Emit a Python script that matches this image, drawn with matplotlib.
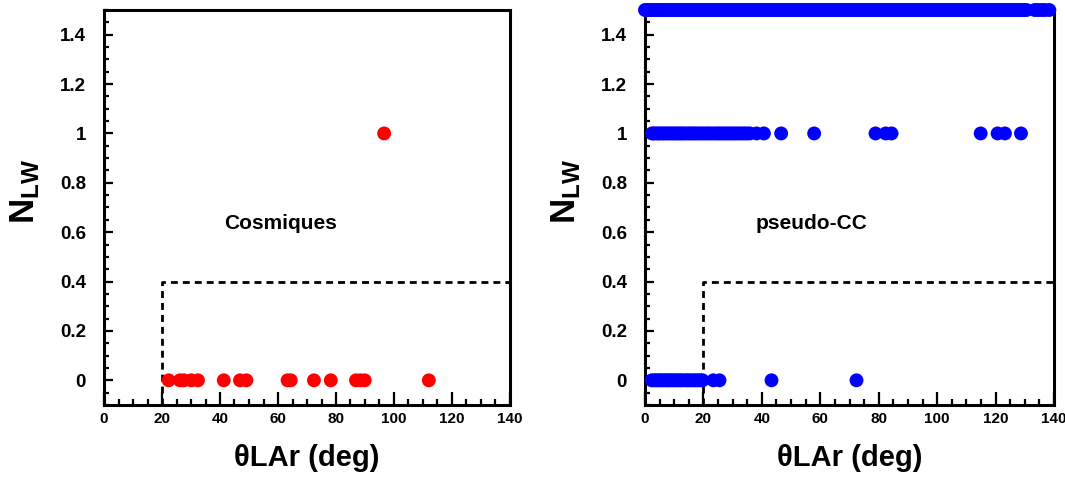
import matplotlib
matplotlib.use("Agg")
import matplotlib.pyplot as plt
from matplotlib.ticker import MultipleLocator

plt.rcParams['font.family'] = ['Liberation Sans', 'DejaVu Sans']
plt.rcParams['font.weight'] = 'bold'
plt.rcParams['mathtext.fontset'] = 'custom'
plt.rcParams['mathtext.bf'] = 'Liberation Sans:bold'
plt.rcParams['mathtext.rm'] = 'Liberation Sans:bold'

# ---- data ----
cosmic_theta_n0 = [22.3, 26.2, 27.5, 30.1, 32.4, 41.3, 46.9, 49.1, 63.3, 64.4,
                   72.4, 78.2, 86.9, 88.4, 89.9, 112.0]
cosmic_theta_n1 = [96.6]

cc_theta_n0 = [2.3, 3.1, 3.9, 4.6, 5.2, 6.0, 6.8, 7.5, 8.1, 8.9, 9.6, 10.4, 11.2,
               11.9, 12.6, 13.5, 14.3, 15.0, 15.8, 16.7, 17.4, 18.2, 19.0, 19.7,
               23.4, 25.5, 43.3, 72.4]
cc_theta_n1 = [2.4, 3.0, 3.7, 4.5, 5.1, 5.9, 6.6, 7.4, 8.2, 9.0, 9.7, 10.5, 11.3,
               12.1, 12.8, 13.6, 14.5, 15.3, 16.1, 16.9, 17.8, 18.6, 19.5, 20.3,
               21.2, 22.0, 22.9, 23.8, 24.7, 25.4, 26.3, 27.1, 28.0, 28.8, 29.7,
               30.5, 31.4, 32.2, 33.1, 34.0, 34.9, 35.9, 38.2, 40.7, 46.6, 57.9,
               78.9, 82.4, 84.4, 114.9, 120.7, 123.2, 128.7]
cc_theta_overflow = [0.0, 0.9, 1.7, 2.5, 3.4, 4.3, 5.1, 6.0, 6.8, 7.7, 8.5, 9.4,
                     10.3, 11.1, 12.0, 12.8, 13.7, 14.6, 15.4, 16.3, 17.1, 18.0,
                     18.9, 19.7, 20.6, 21.4, 22.3, 23.2, 24.0, 24.9, 25.7, 26.6,
                     27.5, 28.3, 29.2, 30.0, 30.9, 31.8, 32.6, 33.5, 34.3, 35.2,
                     36.1, 36.9, 37.8, 38.6, 39.5, 40.4, 41.2, 42.1, 42.9, 43.8,
                     44.7, 45.5, 46.4, 47.2, 48.1, 49.0, 49.8, 50.7, 51.5, 52.4,
                     53.3, 54.1, 55.0, 55.8, 56.7, 57.6, 58.4, 59.3, 60.1, 61.0,
                     61.9, 62.7, 63.6, 64.4, 65.3, 66.2, 67.0, 67.9, 68.7, 69.6,
                     70.5, 71.3, 72.2, 73.0, 73.9, 74.8, 75.6, 76.5, 77.3, 78.2,
                     79.1, 79.9, 80.8, 81.6, 82.5, 83.4, 84.2, 85.1, 85.9, 86.8,
                     87.7, 88.5, 89.4, 90.2, 91.1, 92.0, 92.8, 93.7, 94.5, 95.4,
                     96.3, 97.1, 98.0, 98.8, 99.7, 100.6, 101.4, 102.3, 103.1,
                     104.0, 104.9, 105.7, 106.6, 107.4, 108.3, 109.2, 110.0, 110.9,
                     111.7, 112.6, 113.5, 114.3, 115.2, 116.0, 116.9, 117.8, 118.6,
                     119.5, 120.3, 121.2, 122.1, 122.9, 123.8, 124.6, 125.5, 126.4,
                     127.2, 128.1, 128.9, 129.8, 130.6, 133.4, 134.5, 135.7, 136.9,
                     138.4]

nlw_zero, nlw_one, nlw_overflow = 0.0, 1.0, 1.5
cut_theta = [20, 20, 140]
cut_nlw = [-0.1, 0.4, 0.4]

xticks = [0, 20, 40, 60, 80, 100, 120, 140]
yticks = [0, 0.2, 0.4, 0.6, 0.8, 1, 1.2, 1.4]
ytick_labels = ['0', '0.2', '0.4', '0.6', '0.8', '1', '1.2', '1.4']
panel_texts = ['Cosmiques', 'pseudo-CC']

fig = plt.figure(figsize=(10.65, 4.95), dpi=100)
ax1 = fig.add_axes([104/1065, 1-405/495, 406/1065, 395/495])
ax2 = fig.add_axes([645/1065, 1-405/495, 409/1065, 395/495])

ms = 100

def style(ax):
    ax.set_xlim(0, 140)
    ax.set_ylim(-0.1, 1.5)
    ax.set_xticks(xticks)
    ax.set_xticklabels([str(t) for t in xticks], fontsize=11, fontweight='bold')
    ax.set_yticks(yticks)
    ax.set_yticklabels(ytick_labels, fontsize=13.5, fontweight='bold')
    ax.xaxis.set_minor_locator(MultipleLocator(5))
    ax.yaxis.set_minor_locator(MultipleLocator(0.05))
    ax.tick_params(axis='x', which='major', direction='in', length=9.5, width=1.6, pad=5, top=False)
    ax.tick_params(axis='x', which='minor', direction='in', length=4.5, width=1.6, top=False)
    ax.tick_params(axis='y', which='major', direction='in', length=6.5, width=1.6, pad=13, right=False)
    ax.tick_params(axis='y', which='minor', direction='in', length=3.5, width=1.6, right=False)
    for s in ax.spines.values():
        s.set_linewidth(2.2)
    ax.plot(cut_theta, cut_nlw, color='black', lw=2.0, dashes=(2.5, 1.8), zorder=2)
    ax.set_xlabel('θLAr (deg)', fontsize=21, fontweight='bold')
    ax.xaxis.set_label_coords(0.5, -0.1)
    ax.xaxis.label.set_va('top')
    ax.set_ylabel(r'$\mathbf{N_{LW}}$', fontsize=25)
    ax.yaxis.set_label_coords(-0.152, 0.54)

style(ax1)
style(ax2)

ax1.scatter(cosmic_theta_n0, [nlw_zero]*len(cosmic_theta_n0), s=ms, color='#ff0000',
            edgecolors='none', zorder=5, clip_on=False)
ax1.scatter(cosmic_theta_n1, [nlw_one]*len(cosmic_theta_n1), s=ms, color='#ff0000',
            edgecolors='none', zorder=5, clip_on=False)

ax2.scatter(cc_theta_n0, [nlw_zero]*len(cc_theta_n0), s=ms, color='#0000ff',
            edgecolors='none', zorder=5, clip_on=False)
ax2.scatter(cc_theta_n1, [nlw_one]*len(cc_theta_n1), s=ms, color='#0000ff',
            edgecolors='none', zorder=5, clip_on=False)
ax2.scatter(cc_theta_overflow, [nlw_overflow]*len(cc_theta_overflow), s=ms, color='#0000ff',
            edgecolors='none', zorder=5, clip_on=False)

ax1.text(61, 0.635, panel_texts[0], fontsize=15, fontweight='bold', ha='center', va='center')
ax2.text(57, 0.635, panel_texts[1], fontsize=15, fontweight='bold', ha='center', va='center')

fig.savefig('out.png', dpi=100)
